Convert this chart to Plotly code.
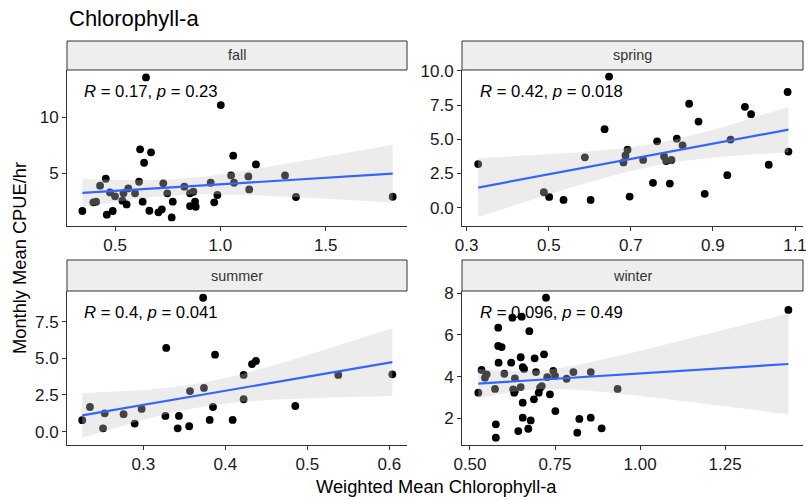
import numpy as np
import plotly.graph_objects as go

W, H = 806, 500

# ---------------- data ----------------
fall_x = [0.647, 1.002, 0.619, 0.671, 0.638, 1.061, 1.169, 0.456, 0.429, 0.614, 1.051, 1.133,
          1.307, 1.137, 1.065, 1.359, 1.818, 0.345, 0.461, 0.489, 0.476, 0.397, 0.410, 0.500,
          0.540, 0.563, 0.595, 0.535, 0.555, 0.631, 0.663, 0.706, 0.722, 0.729, 0.748, 0.774,
          0.769, 0.829, 0.856, 0.872, 0.856, 0.880, 0.883, 0.954, 0.971, 0.986]
fall_y = [13.54, 11.07, 7.12, 6.85, 5.92, 6.55, 5.77, 4.49, 3.87, 4.22, 4.79, 4.70,
          4.79, 3.54, 4.13, 2.86, 2.88, 1.61, 1.28, 1.61, 3.27, 2.38, 2.44, 2.92,
          3.19, 3.63, 3.19, 2.53, 2.20, 2.44, 1.63, 1.49, 1.76, 4.08, 3.19, 2.44,
          1.04, 3.78, 3.19, 3.33, 2.05, 2.44, 1.99, 4.13, 2.38, 3.04]

spring_x = [0.328, 0.488, 0.501, 0.536, 0.588, 0.602, 0.636, 0.647, 0.682, 0.687, 0.692,
            0.697, 0.730, 0.754, 0.764, 0.781, 0.786, 0.795, 0.799, 0.812, 0.826, 0.842,
            0.865, 0.880, 0.935, 0.943, 0.978, 0.993, 1.036, 1.082, 1.084]
spring_y = [3.19, 1.13, 0.79, 0.57, 3.68, 0.57, 5.74, 9.59, 3.31, 3.82, 4.24,
            0.81, 3.49, 1.82, 4.85, 3.75, 3.41, 1.76, 3.49, 5.05, 4.56, 7.60,
            6.30, 1.01, 2.38, 4.98, 7.38, 6.84, 3.14, 8.46, 4.10]

summer_x = [0.2256, 0.235, 0.251, 0.253, 0.276, 0.2895, 0.298, 0.327, 0.328, 0.342, 0.3435,
            0.356, 0.357, 0.373, 0.374, 0.381, 0.385, 0.3875, 0.409, 0.4224, 0.4224, 0.4326,
            0.4374, 0.4854, 0.5378, 0.6037]
summer_y = [0.78, 1.68, 0.23, 1.25, 1.19, 0.55, 1.55, 1.07, 5.71, 0.23, 1.07,
            0.37, 2.77, 9.13, 2.98, 0.80, 1.68, 5.25, 0.80, 3.87, 2.21, 4.61,
            4.82, 1.75, 3.87, 3.91]

winter_x = [0.7235, 0.6245, 0.652, 0.583, 0.6745, 0.583, 0.593, 0.584, 0.621, 0.649, 0.690,
            0.7176, 0.655, 0.659, 0.694, 0.534, 0.549, 0.544, 0.601, 0.632, 0.745, 0.727,
            0.750, 0.784, 0.804, 0.855, 0.934, 0.5245, 0.5735, 0.627, 0.632, 0.630, 0.649,
            0.706, 0.711, 0.702, 0.688, 0.735, 0.655, 0.751, 0.655, 0.6785, 0.576, 0.6715,
            0.642, 0.8215, 0.855, 0.887, 0.8155, 0.576, 1.436]
winter_y = [7.79, 6.83, 6.88, 6.35, 6.18, 5.47, 5.42, 4.67, 4.67, 4.93, 4.88,
            5.07, 4.46, 4.37, 4.22, 4.32, 4.11, 3.95, 4.14, 3.92, 4.27, 3.98,
            4.03, 3.90, 4.22, 4.22, 3.41, 3.23, 3.41, 3.39, 3.31, 3.23, 3.50,
            3.47, 3.55, 3.23, 2.91, 3.15, 2.75, 2.35, 2.03, 1.90, 1.71, 1.50,
            1.39, 1.97, 2.03, 1.52, 1.31, 1.07, 7.20]

seasons = ["fall", "spring", "summer", "winter"]
stat_labels = ["<i>R</i> = 0.17, <i>p</i> = 0.23",
               "<i>R</i> = 0.42, <i>p</i> = 0.018",
               "<i>R</i> = 0.4, <i>p</i> = 0.041",
               "<i>R</i> = 0.096, <i>p</i> = 0.49"]

x_ticks = {"fall": [0.5, 1.0, 1.5], "spring": [0.3, 0.5, 0.7, 0.9, 1.1],
           "summer": [0.3, 0.4, 0.5, 0.6], "winter": [0.5, 0.75, 1.0, 1.25]}
x_tick_text = {"fall": ["0.5", "1.0", "1.5"], "spring": ["0.3", "0.5", "0.7", "0.9", "1.1"],
               "summer": ["0.3", "0.4", "0.5", "0.6"], "winter": ["0.50", "0.75", "1.00", "1.25"]}
y_ticks = {"fall": [5, 10], "spring": [0, 2.5, 5, 7.5, 10],
           "summer": [0, 2.5, 5, 7.5], "winter": [2, 4, 6, 8]}
y_tick_text = {"fall": ["5", "10"], "spring": ["0.0", "2.5", "5.0", "7.5", "10.0"],
               "summer": ["0.0", "2.5", "5.0", "7.5"], "winter": ["2", "4", "6", "8"]}

data = {"fall": (fall_x, fall_y), "spring": (spring_x, spring_y),
        "summer": (summer_x, summer_y), "winter": (winter_x, winter_y)}

# ---------------- layout geometry (pixels) ----------------
panels = {
    "fall":   dict(x=(67, 407), y=(70, 226), strip=(41, 70), xr=(0.272, 1.886), yr=(0.27, 14.2)),
    "spring": dict(x=(462, 803), y=(70, 226), strip=(41, 70), xr=(0.2886, 1.1195), yr=(-1.34, 10.07)),
    "summer": dict(x=(67, 407), y=(291, 445), strip=(260, 291), xr=(0.207, 0.6216), yr=(-0.91, 9.59)),
    "winter": dict(x=(462, 803), y=(291, 445), strip=(260, 291), xr=(0.4765, 1.479), yr=(0.72, 8.11)),
}
stat_pos = {"fall": (82, 92), "spring": (478, 92), "summer": (82, 312), "winter": (478, 312)}


def px_x(p):
    return p / W


def px_y(p):
    return 1 - p / H


def t_quant(df, z=1.959964):
    return (z + (z**3 + z) / (4 * df) + (5 * z**5 + 16 * z**3 + 3 * z) / (96 * df**2)
            + (3 * z**7 + 19 * z**5 + 17 * z**3 - 15 * z) / (384 * df**3))


def lm_fit(x, y):
    x = np.asarray(x, float)
    y = np.asarray(y, float)
    n = len(x)
    b, a = np.polyfit(x, y, 1)
    xs = np.linspace(x.min(), x.max(), 80)
    yh = a + b * xs
    s = np.sqrt(((y - (a + b * x)) ** 2).sum() / (n - 2))
    sxx = ((x - x.mean()) ** 2).sum()
    se = s * np.sqrt(1 / n + (xs - x.mean()) ** 2 / sxx)
    t = t_quant(n - 2)
    return xs, yh, yh - t * se, yh + t * se


FONT = "Liberation Sans, Arial, sans-serif"
fig = go.Figure()
layout = dict(template="none", width=W, height=H, autosize=False,
              margin=dict(l=0, r=0, t=0, b=0, pad=0, autoexpand=False),
              paper_bgcolor="white", plot_bgcolor="white", showlegend=False,
              font=dict(family=FONT, color="#1a1a1a"))
shapes = []
annotations = []

for i, s in enumerate(seasons):
    k = "" if i == 0 else str(i + 1)
    xa, ya = "x" + k, "y" + k
    P = panels[s]
    xs_, ys_ = data[s]
    fig.add_trace(go.Scatter(x=xs_, y=ys_, mode="markers", xaxis=xa, yaxis=ya,
                             marker=dict(color="black", size=7.8, line=dict(width=0)),
                             hoverinfo="skip", cliponaxis=False))
    gx, gy, lo, hi = lm_fit(xs_, ys_)
    fig.add_trace(go.Scatter(x=np.concatenate([gx, gx[::-1]]), y=np.concatenate([lo, hi[::-1]]),
                             mode="lines", fill="toself", fillcolor="rgba(200,200,200,0.34)",
                             line=dict(width=0), xaxis=xa, yaxis=ya, hoverinfo="skip"))
    fig.add_trace(go.Scatter(x=gx, y=gy, mode="lines", line=dict(color="#3366FF", width=2.2),
                             xaxis=xa, yaxis=ya, hoverinfo="skip"))
    axcommon = dict(showline=True, linecolor="#333333", linewidth=1, ticks="outside", ticklen=4,
                    tickcolor="#333333", tickwidth=1, showgrid=False, zeroline=False,
                    automargin=False, mirror=False, ticklabeloverflow="allow",
                    tickfont=dict(size=17, color="#1a1a1a", family=FONT))
    layout["xaxis" + k] = dict(axcommon, domain=[px_x(P["x"][0]), px_x(P["x"][1])],
                               range=list(P["xr"]), anchor=ya, tickmode="array",
                               tickvals=x_ticks[s], ticktext=x_tick_text[s])
    layout["yaxis" + k] = dict(axcommon, domain=[px_y(P["y"][1]), px_y(P["y"][0])],
                               range=list(P["yr"]), anchor=xa, tickmode="array",
                               tickvals=y_ticks[s], ticktext=y_tick_text[s])
    # strip
    shapes.append(dict(type="rect", xref="paper", yref="paper",
                       x0=px_x(P["x"][0]), x1=px_x(P["x"][1]),
                       y0=px_y(P["strip"][1]), y1=px_y(P["strip"][0]),
                       fillcolor="#EEEEEE", line=dict(color="#333333", width=1), layer="above"))
    annotations.append(dict(text=s, xref="paper", yref="paper",
                            x=px_x((P["x"][0] + P["x"][1]) / 2),
                            y=px_y((P["strip"][0] + P["strip"][1]) / 2),
                            showarrow=False, xanchor="center", yanchor="middle",
                            font=dict(size=14.4, color="#333333", family=FONT)))
    sx, sy = stat_pos[s]
    annotations.append(dict(text=stat_labels[i], xref="paper", yref="paper",
                            x=px_x(sx), y=px_y(sy), showarrow=False,
                            xanchor="left", yanchor="middle",
                            font=dict(size=16.7, color="black", family=FONT)))

annotations.append(dict(text="Chlorophyll-a", xref="paper", yref="paper",
                        x=px_x(67), y=px_y(18), showarrow=False, xanchor="left", yanchor="middle",
                        font=dict(size=22, color="black", family=FONT)))
annotations.append(dict(text="Monthly Mean CPUE/hr", xref="paper", yref="paper",
                        x=px_x(19), y=px_y(258), showarrow=False, textangle=-90,
                        xanchor="center", yanchor="middle",
                        font=dict(size=18.3, color="black", family=FONT)))
annotations.append(dict(text="Weighted Mean Chlorophyll-a", xref="paper", yref="paper",
                        x=px_x(436), y=px_y(486), showarrow=False,
                        xanchor="center", yanchor="middle",
                        font=dict(size=18.3, color="black", family=FONT)))

layout["shapes"] = shapes
layout["annotations"] = annotations
fig.update_layout(**layout)
fig.write_html("out.html", config={"displayModeBar": False},
               post_script="document.body.style.margin='0px';document.body.style.overflow='hidden';")
